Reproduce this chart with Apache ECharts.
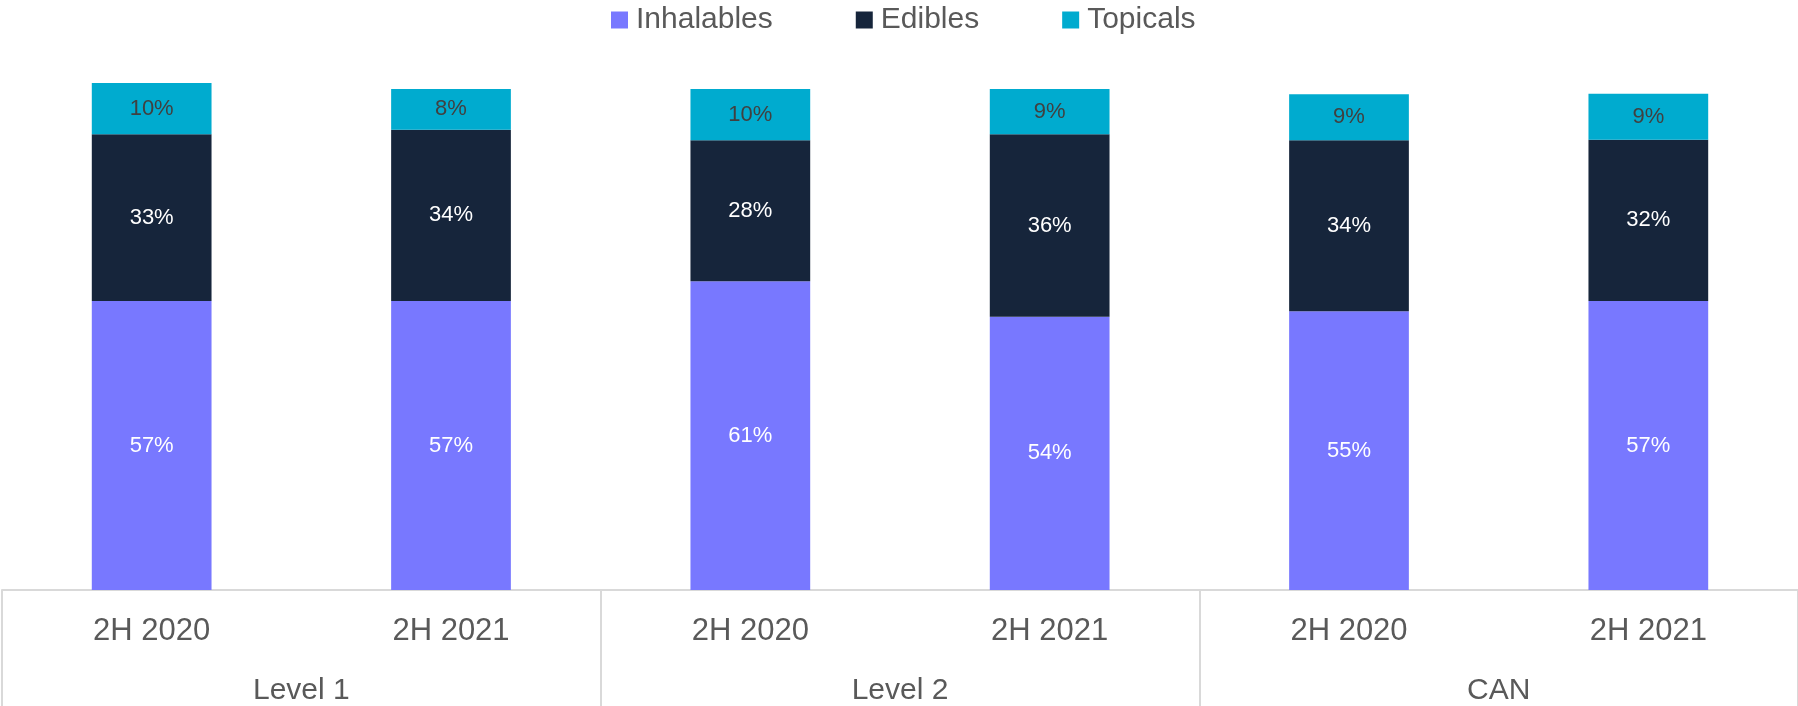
<!DOCTYPE html>
<html>
<head>
<meta charset="utf-8">
<script src="https://cdn.jsdelivr.net/npm/echarts@6/dist/echarts.min.js"></script>
<style>
html,body{margin:0;padding:0;background:#fff;}
#chart{width:1798px;height:706px;}
</style>
</head>
<body>
<div id="chart"></div>
<script>
const periods = ['2H 2020', '2H 2021', '2H 2020', '2H 2021', '2H 2020', '2H 2021'];
const groups = ['Level 1', 'Level 2', 'CAN'];
const inhalables = [57.0, 57.0, 60.9, 53.9, 55.0, 57.0];
const edibles = [32.9, 33.8, 27.8, 36.0, 33.7, 31.8];
const topicals = [10.1, 8.0, 10.1, 8.9, 9.1, 9.1];

const FONT = '"Liberation Sans", Arial, sans-serif';
const fmt = p => Math.round(p.value) + '%';

function makeSeries(name, data, color, labelColor) {
  return {
    name: name,
    type: 'bar',
    stack: 'total',
    data: data,
    barWidth: '40%',
    itemStyle: { color: color },
    label: {
      show: true,
      position: 'inside',
      formatter: fmt,
      color: labelColor,
      fontFamily: FONT,
      fontSize: 22
    },
    emphasis: { disabled: true }
  };
}

const chart = echarts.init(document.getElementById('chart'), null, { renderer: 'canvas' });
chart.setOption({
  animation: false,
  backgroundColor: '#ffffff',
  legend: {
    top: 0,
    left: 606,
    itemWidth: 17,
    itemHeight: 17,
    itemGap: 83,
    icon: 'rect',
    textStyle: { fontFamily: FONT, fontSize: 30, color: '#595959', padding: [0, 0, 0, 3] },
    data: ['Inhalables', 'Edibles', 'Topicals']
  },
  grid: { left: 2, width: 1800, top: 83, bottom: 116, containLabel: false },
  xAxis: [
    {
      type: 'category',
      data: periods,
      position: 'bottom',
      axisLine: { show: true, lineStyle: { color: '#D9D9D9', width: 2 } },
      axisTick: { show: false },
      axisLabel: { fontFamily: FONT, fontSize: 31, color: '#595959', margin: 26, interval: 0 }
    },
    {
      type: 'category',
      data: groups,
      position: 'bottom',
      axisLine: { show: false },
      axisTick: { show: true, length: 118, lineStyle: { color: '#D9D9D9', width: 2 } },
      axisLabel: { fontFamily: FONT, fontSize: 30, color: '#595959', margin: 86, interval: 0 }
    }
  ],
  yAxis: {
    type: 'value',
    min: 0,
    max: 100,
    show: false,
    splitLine: { show: false }
  },
  series: [
    makeSeries('Inhalables', inhalables, '#7878FF', '#ffffff'),
    makeSeries('Edibles', edibles, '#16253B', '#ffffff'),
    makeSeries('Topicals', topicals, '#00ABCF', '#404040')
  ]
});
</script>
</body>
</html>
